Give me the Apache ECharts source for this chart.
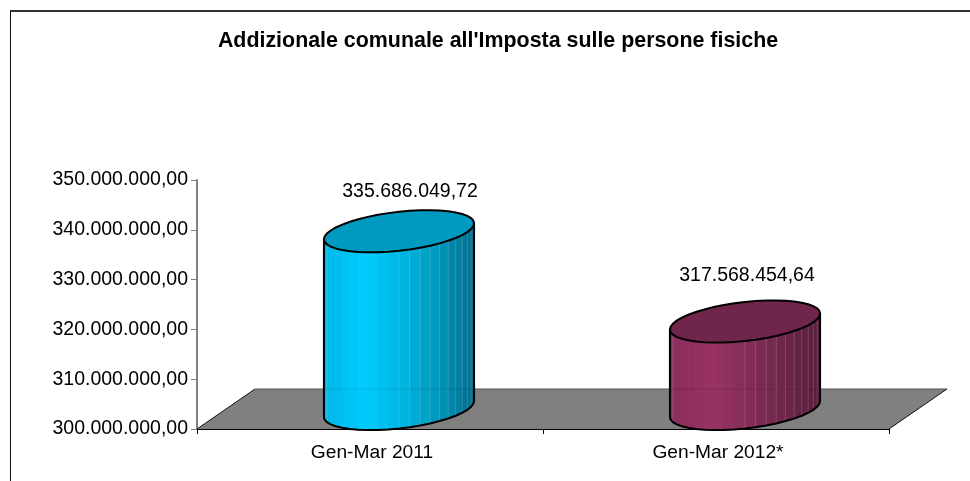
<!DOCTYPE html>
<html>
<head>
<meta charset="utf-8">
<script src="https://cdn.jsdelivr.net/npm/echarts@6/dist/echarts.min.js"></script>
<style>
  html, body { margin: 0; padding: 0; background: #fff; }
  #chart { width: 970px; height: 481px; }
</style>
</head>
<body>
<div id="chart"></div>
<script>
const chartTitle = "Addizionale comunale all'Imposta sulle persone fisiche";
const categories = ['Gen-Mar 2011', 'Gen-Mar 2012*'];
const values = [335686049.72, 317568454.64];
const axisMin = 300000000;
const axisMax = 350000000;
const axisStep = 10000000;

const sideColors = [
  ['#00b8e8', '#00ccff', '#00b4e0', '#0094b8', '#006a8a'],
  ['#8a2c5c', '#993366', '#832c58', '#6c2648', '#561d3a']
];
const topColors = ['#0099bf', '#70264c'];

// floor depth, the bars sit in the middle of it
const DEPTH_X = 58, DEPTH_Y = 40;
const LABEL_FONT = '"Liberation Sans", Arial, sans-serif';

function fmt(v) {
  const parts = v.toFixed(2).split('.');
  return parts[0].replace(/\B(?=(\d{3})+$)/g, '.') + ',' + parts[1];
}

function ringPoint(cx, cy, rx, t) {
  return [cx + rx * Math.cos(t), cy - 8 * Math.cos(t) + 19.5 * Math.sin(t)];
}

function sideColor(stops, f) {
  return echarts.color.lerp(f, stops);
}

function renderFloor(params, api) {
  const c = params.coordSys;
  const b = c.y + c.height;
  return {
    type: 'group',
    children: [
      { type: 'polygon', shape: { points: [[c.x, b], [c.x + DEPTH_X, b - DEPTH_Y], [c.x + c.width + DEPTH_X, b - DEPTH_Y], [c.x + c.width, b]] },
        style: { fill: '#808080', stroke: null } },
      { type: 'line', shape: { x1: c.x + DEPTH_X, y1: b - DEPTH_Y, x2: c.x + c.width + DEPTH_X, y2: b - DEPTH_Y }, style: { stroke: '#555', lineWidth: 1 } },
      { type: 'line', shape: { x1: c.x, y1: b, x2: c.x + DEPTH_X, y2: b - DEPTH_Y }, style: { stroke: '#111', lineWidth: 1 } },
      { type: 'line', shape: { x1: c.x + c.width, y1: b, x2: c.x + c.width + DEPTH_X, y2: b - DEPTH_Y }, style: { stroke: '#111', lineWidth: 1 } }
    ]
  };
}

function renderCylinder(params, api) {
  const i = api.value(0);
  const top = api.coord([i, api.value(1)]);
  const base = api.coord([i, axisMin]);
  const cx = top[0] + DEPTH_X / 2;
  const topY = top[1] - DEPTH_Y / 2;
  const baseY = base[1] - DEPTH_Y / 2;
  const rx = api.size([1, 0])[0] * 0.217;
  const stops = sideColors[i];
  const steps = 22;
  const children = [];

  // front of the cylinder, one flat strip per facet
  for (let s = 0; s < steps; s++) {
    const t0 = Math.PI - Math.PI * s / steps;
    const t1 = Math.PI - Math.PI * (s + 1) / steps;
    const a = ringPoint(cx, topY, rx, t0);
    const b = ringPoint(cx, topY, rx, t1);
    const c = ringPoint(cx, baseY, rx, t1);
    const d = ringPoint(cx, baseY, rx, t0);
    const f = (a[0] - (cx - rx)) / (2 * rx);
    const col = sideColor(stops, f);
    children.push({
      type: 'polygon',
      shape: { points: [a, b, c, d] },
      style: { fill: col, stroke: col, lineWidth: 0.8 }
    });
  }

  // faint facet seams, mostly on the dark side
  for (let s = 2; s < steps; s++) {
    if (s !== 2 && s < 11) continue;
    const t = Math.PI - Math.PI * s / steps;
    const a = ringPoint(cx, topY, rx, t);
    const b = ringPoint(cx, baseY, rx, t);
    children.push({
      type: 'line',
      shape: { x1: a[0], y1: a[1], x2: b[0], y2: b[1] },
      style: { stroke: 'rgba(255,255,255,0.16)', lineWidth: 1 }
    });
  }

  // back edge of the floor shows faintly through the side
  children.push({
    type: 'line',
    shape: { x1: cx - rx, y1: base[1] - DEPTH_Y, x2: cx + rx, y2: base[1] - DEPTH_Y },
    style: { stroke: 'rgba(0,0,0,0.1)', lineWidth: 1 }
  });

  // outline of the side
  const outline = [];
  for (let s = 0; s <= steps; s++) {
    outline.push(ringPoint(cx, baseY, rx, Math.PI - Math.PI * s / steps));
  }
  outline.unshift(ringPoint(cx, topY, rx, Math.PI));
  outline.push(ringPoint(cx, topY, rx, 0));
  children.push({ type: 'polyline', shape: { points: outline }, style: { fill: null, stroke: '#000', lineWidth: 2 } });

  // top cap
  const ring = [];
  for (let s = 0; s < steps * 2; s++) {
    ring.push(ringPoint(cx, topY, rx, Math.PI * s / steps));
  }
  children.push({ type: 'polygon', shape: { points: ring }, style: { fill: topColors[i], stroke: '#000', lineWidth: 2 } });

  // value label above the cylinder
  children.push({
    type: 'text',
    style: {
      text: fmt(api.value(1)),
      x: cx + (i === 0 ? 11 : 2),
      y: topY - (i === 0 ? 40 : 46),
      align: 'center',
      verticalAlign: 'middle',
      fill: '#000',
      font: '19.5px ' + LABEL_FONT
    }
  });
  return { type: 'group', children: children };
}

const chart = echarts.init(document.getElementById('chart'), null, { renderer: 'canvas' });
chart.setOption({
  animation: false,
  backgroundColor: '#fff',
  title: {
    text: chartTitle,
    left: 493,
    top: 26,
    textAlign: 'center',
    textStyle: { fontFamily: LABEL_FONT, fontSize: 21.4, fontWeight: 'bold', color: '#000' }
  },
  grid: { left: 197, right: 81, top: 180, bottom: 52 },
  xAxis: {
    type: 'category',
    data: categories,
    axisLine: { onZero: false, lineStyle: { color: '#000', width: 1 } },
    axisTick: { show: true, alignWithLabel: false, length: 5, lineStyle: { color: '#000' } },
    axisLabel: { color: '#000', fontFamily: LABEL_FONT, fontSize: 19.2, margin: 14, padding: [0, 0, 0, 4] }
  },
  yAxis: {
    type: 'value',
    min: axisMin,
    max: axisMax,
    interval: axisStep,
    axisLine: { show: true, lineStyle: { color: '#808080', width: 2 } },
    axisTick: { show: true, length: 6, lineStyle: { color: '#808080', width: 1 } },
    axisLabel: { color: '#000', fontFamily: LABEL_FONT, fontSize: 19.5, margin: 9, padding: [3, 0, 0, 0], formatter: fmt },
    splitLine: { show: false }
  },
  series: [
    { type: 'custom', renderItem: renderFloor, data: [[0, axisMin]], clip: false, z: 1, silent: true },
    {
      type: 'custom',
      renderItem: renderCylinder,
      data: values.map((v, i) => [i, v]),
      encode: { x: 0, y: 1 },
      clip: false,
      z: 3
    }
  ],
  graphic: [
    { type: 'line', shape: { x1: 10, y1: 11, x2: 970, y2: 11 }, style: { stroke: '#333', lineWidth: 2 }, silent: true },
    { type: 'line', shape: { x1: 10.5, y1: 11, x2: 10.5, y2: 481 }, style: { stroke: '#111', lineWidth: 1 }, silent: true }
  ]
});
</script>
</body>
</html>
